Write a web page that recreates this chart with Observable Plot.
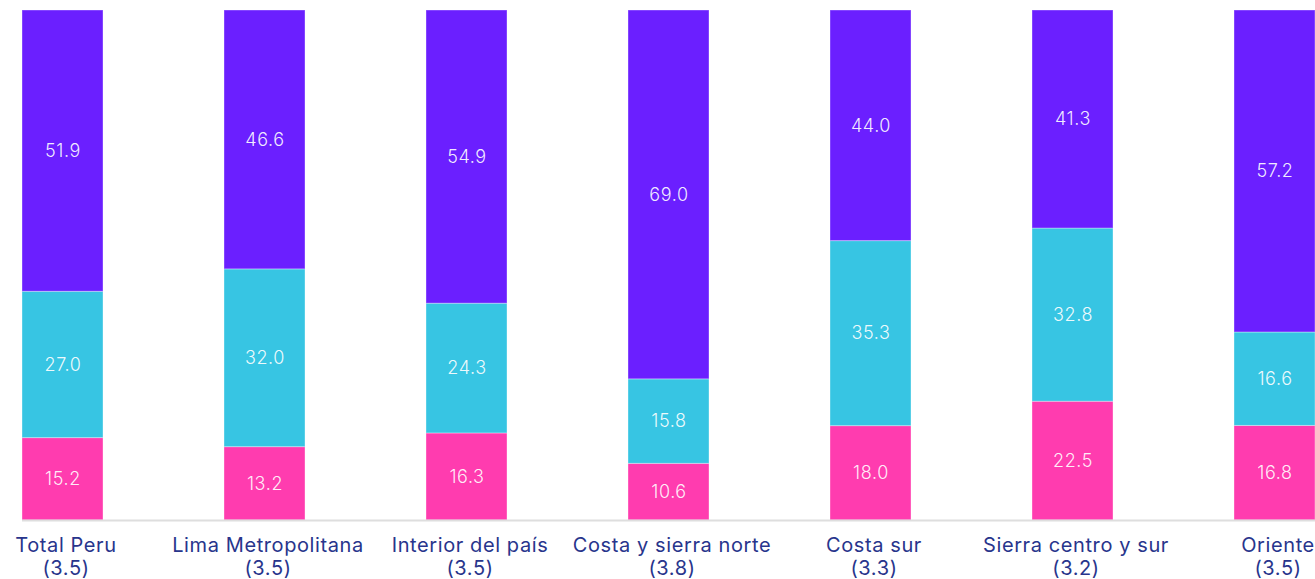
<!DOCTYPE html>
<html>
<head>
<meta charset="utf-8">
<script src="https://cdn.jsdelivr.net/npm/d3@7"></script>
<script src="https://cdn.jsdelivr.net/npm/@observablehq/plot@0.6"></script>
<style>
  html, body { margin: 0; padding: 0; background: #fff; overflow: hidden; }
  #chart { width: 1315px; height: 579px; overflow: hidden; }
  #chart svg g[aria-label="x-axis tick label"] text { letter-spacing: 0.6px; }
  #chart svg g[aria-label="text"] text { letter-spacing: 0.6px; }
</style>
</head>
<body>
<div id="chart"></div>
<script>
const regions = ["Total Peru", "Lima Metropolitana", "Interior del país", "Costa y sierra norte", "Costa sur", "Sierra centro y sur", "Oriente"];
const regionScores = ["3.5", "3.5", "3.5", "3.8", "3.3", "3.2", "3.5"];
const seriesNames = ["Rosa", "Celeste", "Morado"];
const seriesColors = ["#FF3CAF", "#37C5E3", "#6B1FFF"];
const pinkValues = [15.2, 13.2, 16.3, 10.6, 18.0, 22.5, 16.8];
const cyanValues = [27.0, 32.0, 24.3, 15.8, 35.3, 32.8, 16.6];
const purpleValues = [51.9, 46.6, 54.9, 69.0, 44.0, 41.3, 57.2];

const seriesValues = [pinkValues, cyanValues, purpleValues];
const data = [];
regions.forEach((r, i) => {
  seriesNames.forEach((s, j) => {
    data.push({region: r, series: s, value: seriesValues[j][i]});
  });
});
const labelOf = new Map(regions.map((r, i) => [r, `${r}\n(${regionScores[i]})`]));

const stackOpts = {x: "region", y: "value", z: "series", order: seriesNames, offset: "normalize"};

const chart = Plot.plot({
  width: 1315,
  height: 579,
  marginTop: 10,
  marginBottom: 59,
  marginLeft: 22,
  marginRight: 0,
  style: {fontFamily: "Inter, 'Noto Sans', sans-serif", background: "#fff", overflow: "visible"},
  x: {domain: regions, range: [1.8, 1335], paddingInner: 0.6, paddingOuter: 0.1, align: 0.5, label: null},
  y: {axis: null, domain: [0, 1]},
  color: {domain: seriesNames, range: seriesColors},
  marks: [
    Plot.barY(data, Plot.stackY({...stackOpts, fill: "series", stroke: "white", strokeOpacity: 0.35, strokeWidth: 1, inset: 0})),
    Plot.ruleY([0], {stroke: "#dedede", strokeWidth: 2}),
    Plot.text(data, Plot.stackY({...stackOpts, text: d => d.value.toFixed(1), fill: "white", fillOpacity: 0.92, fontSize: 18, fontWeight: 300})),
    Plot.axisX({tickSize: 0, tickPadding: 15, dx: 3, tickFormat: d => labelOf.get(d), fontSize: 20, fontWeight: 400, lineHeight: 1.15, fill: "#28358C", label: null})
  ]
});
document.getElementById("chart").appendChild(chart);
</script>
</body>
</html>
